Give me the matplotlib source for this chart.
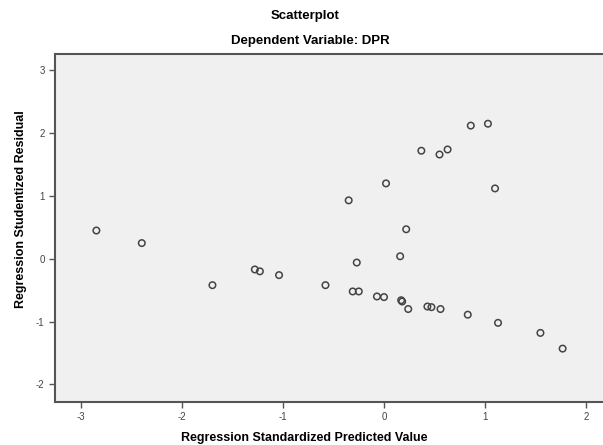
import matplotlib
matplotlib.use("Agg")
import matplotlib.pyplot as plt

predicted = [-2.85, -2.40, -1.70, -1.28, -1.23, -1.04, -0.58, -0.35, -0.31, -0.25,
             -0.27, -0.07, 0.00, 0.02, 0.16, 0.17, 0.18, 0.22, 0.24, 0.37,
             0.43, 0.47, 0.56, 0.55, 0.63, 0.83, 0.86, 1.03, 1.10, 1.13,
             1.55, 1.77]
residual = [0.45, 0.25, -0.42, -0.17, -0.20, -0.26, -0.42, 0.93, -0.52, -0.52,
            -0.06, -0.60, -0.61, 1.20, 0.04, -0.66, -0.68, 0.47, -0.80, 1.72,
            -0.76, -0.77, -0.80, 1.66, 1.74, -0.89, 2.12, 2.15, 1.12, -1.02,
            -1.18, -1.43]
x_ticks = [-3, -2, -1, 0, 1, 2]
y_ticks = [-2, -1, 0, 1, 2, 3]

plt.rcParams['font.family'] = ['Liberation Sans', 'DejaVu Sans']

fig = plt.figure(figsize=(6.03, 4.45), dpi=100)
ax = fig.add_axes([55/603, 1-402/445, (603-55)/603, (402-54)/445])
ax.set_facecolor('#f0f0f0')
ax.scatter(predicted, residual, s=22, facecolors='none', edgecolors='#444444', linewidths=1.1)
ax.set_xlim(-3.26, 2.17)
ax.set_ylim(-2.28, 3.26)
ax.set_xticks(x_ticks)
ax.set_yticks(y_ticks)
ax.set_xticklabels([str(t) for t in x_ticks])
ax.set_yticklabels([str(t) for t in y_ticks])
ax.tick_params(direction='out', length=4, width=1, colors='#555555', labelsize=7, labelcolor='#444444')
for s in ['left', 'bottom', 'top']:
    ax.spines[s].set_color('#555555')
    ax.spines[s].set_linewidth(1.5)
ax.spines['right'].set_visible(False)

ax.set_xlabel('Regression Standardized Predicted Value', fontsize=9, fontweight='bold')
ax.xaxis.set_label_coords((304-55)/548, -0.085)
ax.set_ylabel('Regression Studentized Residual', fontsize=9, fontweight='bold', va='center')
ax.yaxis.set_label_coords((21-55)/548, (402-209)/348)
fig.text(305/603, 1-16/445, 'Scatterplot', ha='center', va='center', fontsize=9.5, fontweight='bold')
fig.text(310/603, 1-41/445, 'Dependent Variable: DPR', ha='center', va='center', fontsize=9.5, fontweight='bold')

fig.savefig('out.png', dpi=100)
